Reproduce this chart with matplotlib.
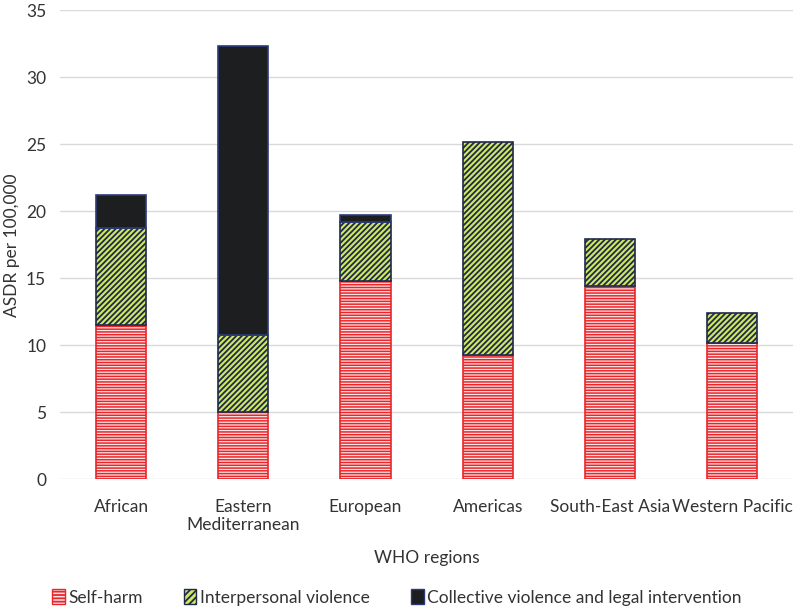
import numpy as np
import matplotlib
matplotlib.use("Agg")
import matplotlib.pyplot as plt
from matplotlib.patches import Patch

plt.rcParams['font.family'] = ['Lato', 'DejaVu Sans']

# data
regions = ['African', 'Eastern\nMediterranean', 'European', 'Americas',
           'South-East Asia', 'Western Pacific']
self_harm = [11.5, 5.05, 14.8, 9.3, 14.4, 10.2]
interpersonal = [7.25, 5.7, 4.4, 15.9, 3.55, 2.2]
collective = [2.45, 21.55, 0.55, 0.0, 0.0, 0.0]
yticks = [0, 5, 10, 15, 20, 25, 30, 35]

fig = plt.figure(figsize=(7.94, 6.12), dpi=100)
ax = fig.add_axes([0.0756, 0.2168, 0.9234, 0.7664])

x = np.arange(len(regions))
w = 0.41
sh = np.array(self_harm)
ip = np.array(interpersonal)
cv = np.array(collective)

plt.rcParams['hatch.linewidth'] = 1.1
ax.bar(x, sh, w, color='#fce4e4', edgecolor='#e8262b', hatch='------', linewidth=1.2, zorder=3)
h_sh = Patch(facecolor='#fce4e4', edgecolor='#e8262b', hatch='-----', label='Self-harm')
plt.rcParams['hatch.linewidth'] = 1.3
ax.bar(x, ip, w, bottom=sh, color='#cfe862', edgecolor='#1f2a4a', hatch='//////', linewidth=1.2, zorder=3)
h_ip = Patch(facecolor='#cfe862', edgecolor='#1f2a4a', hatch='/////', label='Interpersonal violence')
mask = cv > 0
ax.bar(x[mask], cv[mask], w, bottom=(sh + ip)[mask], color='#1c1e1f', edgecolor='#2b3b7a',
       linewidth=1.2, zorder=3)
h_cv = Patch(facecolor='#1c1e1f', edgecolor='#2b3b7a', label='Collective violence and legal intervention')

ax.set_xlim(-0.5, len(regions) - 0.5)
ax.set_ylim(0, 35)
ax.set_yticks(yticks)
ax.set_xticks(x)
ax.set_xticklabels(regions)
ax.yaxis.grid(True, color='#d9d9d9', linewidth=1.0, zorder=0)
ax.set_axisbelow(True)
for s in ax.spines.values():
    s.set_visible(False)
ax.tick_params(axis='both', length=0, labelsize=12.5, colors='#333333', pad=10)
ax.tick_params(axis='x', pad=14)
ax.set_ylabel('ASDR per 100,000', fontsize=12.5, color='#333333', labelpad=4)
ax.set_xlabel('WHO regions', fontsize=12.5, color='#333333', labelpad=12)

fig.legend(handles=[h_sh, h_ip, h_cv], loc='lower center', bbox_to_anchor=(0.5, -0.015), ncol=3,
           frameon=False, fontsize=12.5, handlelength=0.7, handleheight=1.0,
           handletextpad=0.2, columnspacing=2.4, labelcolor='#333333')

fig.savefig('out.png', dpi=100)
